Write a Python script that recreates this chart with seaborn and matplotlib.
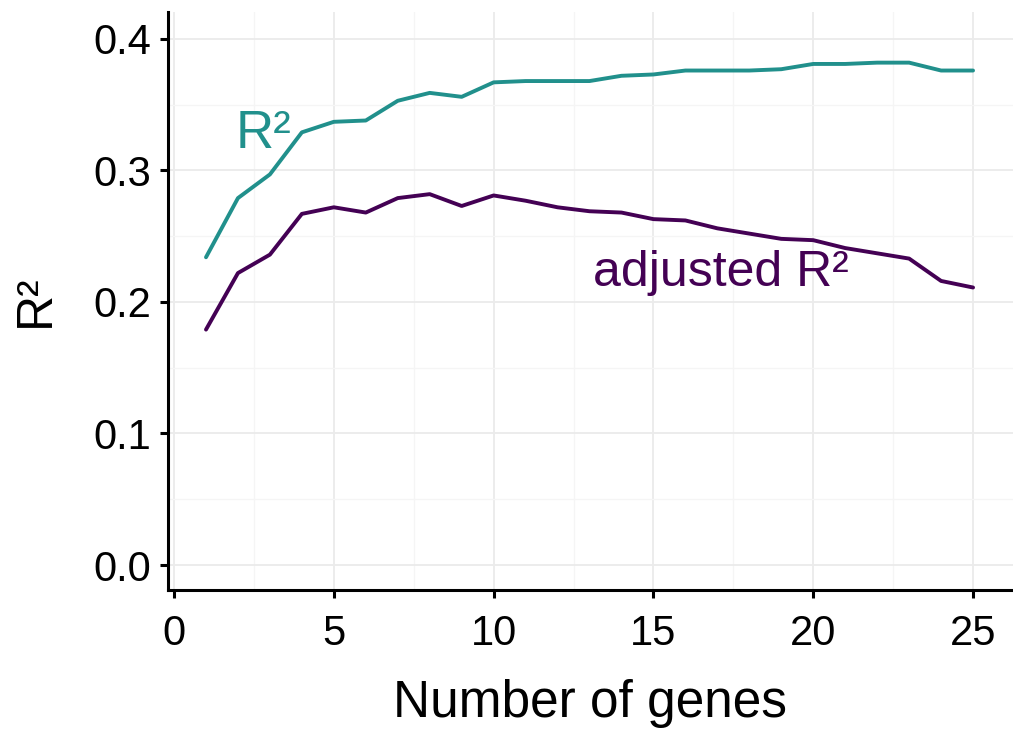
import pandas as pd
import matplotlib.pyplot as plt
import seaborn as sb
from matplotlib.ticker import MultipleLocator

# values
n_genes = list(range(1, 26))
r2 = [0.234, 0.279, 0.297, 0.329, 0.337, 0.338, 0.353, 0.359, 0.356, 0.367,
      0.368, 0.368, 0.368, 0.372, 0.373, 0.376, 0.376, 0.376, 0.377, 0.381,
      0.381, 0.382, 0.382, 0.376, 0.376]
adj_r2 = [0.179, 0.222, 0.236, 0.267, 0.272, 0.268, 0.279, 0.282, 0.273, 0.281,
          0.277, 0.272, 0.269, 0.268, 0.263, 0.262, 0.256, 0.252, 0.248, 0.247,
          0.241, 0.237, 0.233, 0.216, 0.211]
series_names = ["R²", "adjusted R²"]
colors = ["#21908C", "#440154"]

df = pd.DataFrame({
    "genes": n_genes * 2,
    "value": r2 + adj_r2,
    "measure": [series_names[0]] * len(n_genes) + [series_names[1]] * len(n_genes),
})

sb.set_theme(style="white")
plt.rcParams["font.family"] = ["Liberation Sans", "DejaVu Sans"]

fig = plt.figure(figsize=(10.13, 7.32), dpi=100)
ax = fig.add_axes([0.1658, 0.194, 0.8342, 0.7896])

sb.lineplot(data=df, x="genes", y="value", hue="measure",
            palette=dict(zip(series_names, colors)), linewidth=2.8,
            legend=False, ax=ax)

# direct labels instead of a legend
ax.text(2.8, 0.328, series_names[0], color=colors[0], fontsize=38,
        ha="center", va="center")
ax.text(17.1, 0.222, series_names[1], color=colors[1], fontsize=36,
        ha="center", va="center")

ax.set_xlim(-0.19, 26.25)
ax.set_ylim(-0.019, 0.4205)
ax.xaxis.set_major_locator(MultipleLocator(5))
ax.xaxis.set_minor_locator(MultipleLocator(2.5))
ax.yaxis.set_major_locator(MultipleLocator(0.1))
ax.yaxis.set_minor_locator(MultipleLocator(0.05))
ax.yaxis.set_major_formatter(plt.FuncFormatter(lambda v, p: f"{v:.1f}"))

ax.grid(which="major", color="#EBEBEB", linewidth=1.3)
ax.grid(which="minor", color="#F5F5F5", linewidth=1.0)
ax.set_axisbelow(True)

for side in ["top", "right"]:
    ax.spines[side].set_visible(False)
for side in ["left", "bottom"]:
    ax.spines[side].set_color("black")
    ax.spines[side].set_linewidth(2.2)

ax.tick_params(which="major", direction="out", length=6, width=2.2,
               color="black", labelsize=30, labelcolor="black", pad=6,
               left=True, bottom=True)
ax.tick_params(axis="x", which="major", pad=11)
ax.tick_params(which="minor", length=0)

ax.set_xlabel("Number of genes", fontsize=37, labelpad=18, color="black")
ax.set_ylabel("R²", fontsize=36, labelpad=25, color="black")

fig.savefig("out.png", dpi=100)
